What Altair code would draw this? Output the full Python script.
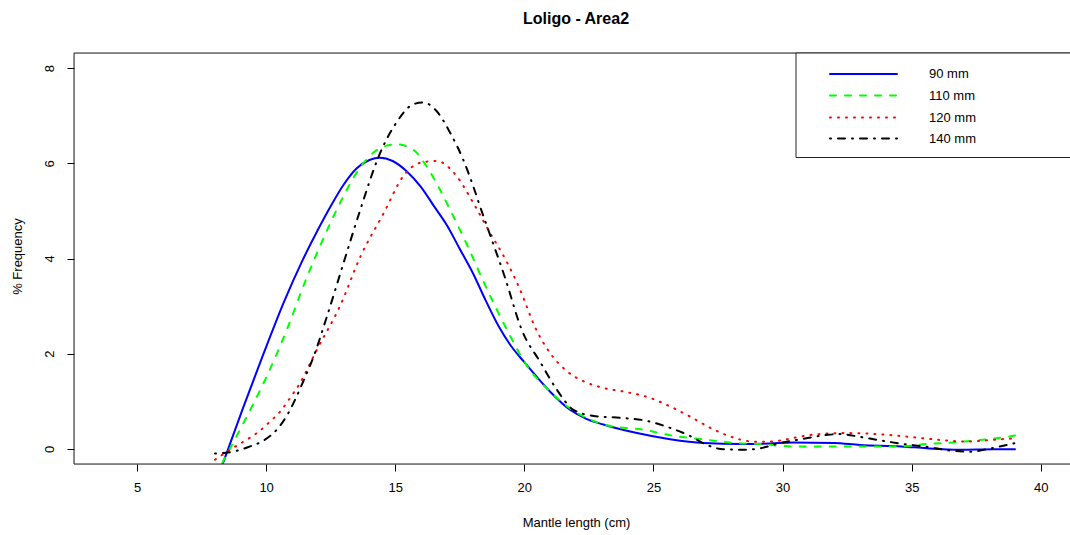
import altair as alt
import pandas as pd

# ---------------- data ----------------
SERIES = ["90 mm", "110 mm", "120 mm", "140 mm"]

x_90 = [8.33, 9.1, 9.9, 10.7, 11.4, 12.0, 12.5, 13.0, 13.5, 14.0, 14.4, 14.9, 15.43,
        16.0, 16.5, 17.0, 17.5, 18.0, 18.5, 19.0, 19.5, 20.0, 20.5, 21.0, 21.77, 22.4,
        23.06, 24.36, 25.64, 26.94, 28.4, 29.5, 30.4, 32.0, 33.0, 34.6, 35.58, 36.88,
        38.17, 39.0]
y_90 = [-0.3, 0.85, 2.0, 3.1, 3.95, 4.6, 5.1, 5.55, 5.89, 6.07, 6.12, 6.05, 5.84,
        5.5, 5.1, 4.7, 4.2, 3.7, 3.12, 2.58, 2.15, 1.82, 1.5, 1.2, 0.82, 0.63,
        0.51, 0.33, 0.2, 0.12, 0.1, 0.11, 0.13, 0.12, 0.08, 0.05, 0.01, -0.02,
        -0.01, -0.01]

x_110 = [8.3, 9.12, 9.96, 10.8, 11.5, 12.2, 12.8, 13.5, 14.14, 14.6, 15.05, 15.69, 16.21,
         16.73, 17.12, 17.77, 18.43, 19.33, 20.03, 21.0, 21.77, 22.52, 23.32, 24.62, 25.6,
         26.9, 28.2, 29.1, 30.4, 32.0, 33.0, 34.6, 35.58, 36.58, 37.53, 38.27, 39.0]
y_110 = [-0.3, 0.54, 1.45, 2.5, 3.5, 4.4, 5.1, 5.8, 6.22, 6.36, 6.4, 6.29, 5.94,
         5.45, 5.03, 4.3, 3.5, 2.5, 1.8, 1.2, 0.85, 0.62, 0.48, 0.40, 0.29,
         0.2, 0.12, 0.10, 0.05, 0.05, 0.05, 0.05, 0.10, 0.13, 0.18, 0.22, 0.28]

x_120 = [8.02, 8.6, 9.12, 9.64, 10.15, 10.54, 10.93, 11.31, 11.96, 12.86, 13.66, 14.55,
         15.31, 15.95, 16.6, 17.38, 18.02, 18.67, 19.3, 19.83, 20.42, 21.0, 21.65, 22.29,
         23.06, 23.97, 24.87, 25.64, 26.41, 27.2, 27.97, 28.87, 29.5, 30.17, 31.06, 32.35,
         33.64, 34.93, 36.22, 37.13, 38.17, 39.0]
y_120 = [-0.23, -0.02, 0.15, 0.33, 0.57, 0.78, 1.07, 1.38, 2.08, 3.0, 4.05, 4.95,
         5.73, 6.01, 6.05, 5.73, 5.17, 4.54, 3.95, 3.35, 2.55, 2.01, 1.63, 1.42,
         1.28, 1.19, 1.07, 0.89, 0.68, 0.44, 0.26, 0.15, 0.15, 0.20, 0.29, 0.33,
         0.31, 0.25, 0.18, 0.15, 0.19, 0.22]

x_140 = [8.02, 8.73, 9.38, 9.89, 10.41, 10.86, 11.18, 11.44, 11.84, 12.36, 13.0, 13.65,
         14.4, 15.05, 15.69, 16.08, 16.6, 17.12, 17.63, 18.02, 18.28, 18.67, 19.25, 19.9,
         20.63, 21.26, 21.9, 22.69, 23.72, 24.62, 25.64, 26.41, 27.07, 27.7, 28.5, 29.13,
         29.9, 30.7, 31.7, 32.2, 33.0, 33.64, 34.55, 35.58, 36.38, 37.28, 38.07, 39.0]
y_140 = [-0.1, -0.06, 0.05, 0.17, 0.4, 0.75, 1.1, 1.42, 1.94, 2.79, 3.91, 5.03,
         6.2, 6.86, 7.24, 7.28, 7.1, 6.65, 6.08, 5.52, 5.1, 4.5, 3.6, 2.5,
         1.81, 1.24, 0.82, 0.69, 0.65, 0.6, 0.44, 0.27, 0.08, -0.01, -0.02, 0.01,
         0.12, 0.2, 0.29, 0.31, 0.25, 0.19, 0.11, 0.04, -0.03, -0.06, 0.01, 0.12]

X_TICKS = [5, 10, 15, 20, 25, 30, 35, 40]
Y_TICKS = [0, 2, 4, 6, 8]

# ---------------- styling ----------------
COLORS = ["#0000FF", "#00FF00", "#FF0000", "#000000"]
DASHES = [None, [6, 9], [1, 7], [1, 7, 7, 7]]
FONT = "Liberation Sans"
W, H = 996, 411
XDOM = [2.56, 41.13]
YDOM = [-0.32, 8.32]

xscale = alt.Scale(domain=XDOM, nice=False, zero=False)
yscale = alt.Scale(domain=YDOM, nice=False, zero=False)

x_axis = alt.Axis(values=X_TICKS, format="d", grid=False, domain=False,
                  tickSize=7, tickColor="black", tickWidth=1,
                  labelFont=FONT, labelFontSize=13, labelColor="black",
                  labelBaseline="middle", labelPadding=16, labelFlush=False,
                  labelOverlap=False,
                  title="Mantle length (cm)", titleFont=FONT, titleFontSize=13,
                  titleFontWeight="normal", titleColor="black",
                  titleX=502, titleY=58, titleBaseline="middle", titleAlign="center")

y_axis = alt.Axis(values=Y_TICKS, format="d", grid=False, domain=False,
                  tickSize=7, tickColor="black", tickWidth=1,
                  labelFont=FONT, labelFontSize=13, labelColor="black",
                  labelAngle=270, labelAlign="center", labelBaseline="middle",
                  labelPadding=18, labelFlush=False, labelOverlap=False,
                  title="% Frequency", titleFont=FONT, titleFontSize=13,
                  titleFontWeight="normal", titleColor="black", titleAngle=270,
                  titleX=-57, titleY=203, titleBaseline="middle", titleAlign="center")

xs_all = [x_90, x_110, x_120, x_140]
ys_all = [y_90, y_110, y_120, y_140]

layers = []
for name, xv, yv, col, dash in zip(SERIES, xs_all, ys_all, COLORS, DASHES):
    df = pd.DataFrame({"x": xv, "y": yv, "series": name})
    mk = dict(color=col, strokeWidth=2, strokeCap="round", interpolate="monotone", clip=True)
    if dash:
        mk["strokeDash"] = dash
    layers.append(
        alt.Chart(df).mark_line(**mk).encode(
            x=alt.X("x:Q", scale=xscale, axis=x_axis),
            y=alt.Y("y:Q", scale=yscale, axis=y_axis),
        )
    )

one = pd.DataFrame({"k": [0]})

# plot frame (top, bottom, left; the right edge lies outside the picture)
frame = [
    alt.Chart(one).mark_rule(color="#222222", strokeWidth=1).encode(
        x=alt.value(0), x2=alt.value(W), y=alt.value(0)),
    alt.Chart(one).mark_rule(color="#222222", strokeWidth=1).encode(
        x=alt.value(0), x2=alt.value(W), y=alt.value(H)),
    alt.Chart(one).mark_rule(color="#222222", strokeWidth=1).encode(
        x=alt.value(0), y=alt.value(0), y2=alt.value(H)),
]

# legend box in the top-right corner
legend = [
    alt.Chart(one).mark_rect(fill="white", stroke="#222222", strokeWidth=1).encode(
        x=alt.value(722), x2=alt.value(W + 30), y=alt.value(0), y2=alt.value(104.5))
]
ROWS = [21, 42.5, 64.5, 85.5]
for name, col, dash, ry in zip(SERIES, COLORS, DASHES, ROWS):
    mk = dict(color=col, strokeWidth=2, strokeCap="round")
    if dash:
        mk["strokeDash"] = dash
    legend.append(
        alt.Chart(one).mark_rule(**mk).encode(
            x=alt.value(756), x2=alt.value(823), y=alt.value(ry)))
    legend.append(
        alt.Chart(pd.DataFrame({"label": [name]})).mark_text(
            font=FONT, fontSize=13, color="black", align="left", baseline="middle"
        ).encode(x=alt.value(855), y=alt.value(ry), text=alt.Text("label:N")))

chart = alt.layer(*layers, *frame, *legend).properties(
    width=W, height=H,
    title=alt.Title("Loligo - Area2", font=FONT, fontSize=16, fontWeight="bold",
                    color="black", anchor="middle", offset=17.5, baseline="middle", dx=4),
    autosize=alt.AutoSizeParams(type="none"),
    padding={"left": 74, "top": 53, "right": 0, "bottom": 71},
).configure_view(strokeWidth=0).configure(background="white")

chart.save("out.html", embed_options={"renderer": "svg", "actions": False})
